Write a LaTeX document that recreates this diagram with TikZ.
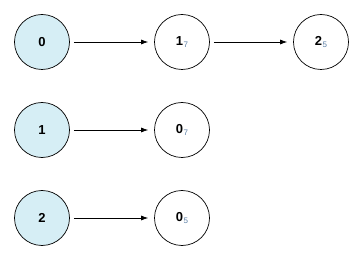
\documentclass[tikz,border=0pt]{standalone}
\usepackage{fontspec}
\setmainfont{Liberation Sans}
\usetikzlibrary{arrows.meta}
\definecolor{nfill}{HTML}{D6EEF5}
\definecolor{subc}{HTML}{5B7FA6}
\tikzset{
  nd/.style={circle,draw=black,line width=0.7pt,minimum size=55pt,inner sep=0pt,font=\fontsize{13}{15}\selectfont\bfseries},
  src/.style={nd,fill=nfill},
  dst/.style={nd,fill=white},
  arr/.style={-{Latex[length=7pt,width=5pt]},line width=0.7pt}
}
\newcommand{\sbs}[1]{\kern0.5pt\raisebox{-2.5pt}{\normalfont\color{subc}\fontsize{8}{9}\selectfont #1}}
\begin{document}
\begin{tikzpicture}[x=1pt,y=-1pt]
\useasboundingbox (0,0) rectangle (358,256);
\node[src] (a0) at (42,42) {0};
\node[dst] (a1) at (182,42) {1\sbs{7}};
\node[dst] (a2) at (321,42) {2\sbs{5}};
\node[src] (b1) at (42,130) {1};
\node[dst] (b0) at (182,130) {0\sbs{7}};
\node[src] (c2) at (42,218) {2};
\node[dst] (c0) at (182,218) {0\sbs{5}};
\draw[arr] ([xshift=4pt]a0.east) -- ([xshift=-6pt]a1.west);
\draw[arr] ([xshift=4pt]a1.east) -- ([xshift=-6pt]a2.west);
\draw[arr] ([xshift=4pt]b1.east) -- ([xshift=-6pt]b0.west);
\draw[arr] ([xshift=4pt]c2.east) -- ([xshift=-6pt]c0.west);
\end{tikzpicture}
\end{document}
